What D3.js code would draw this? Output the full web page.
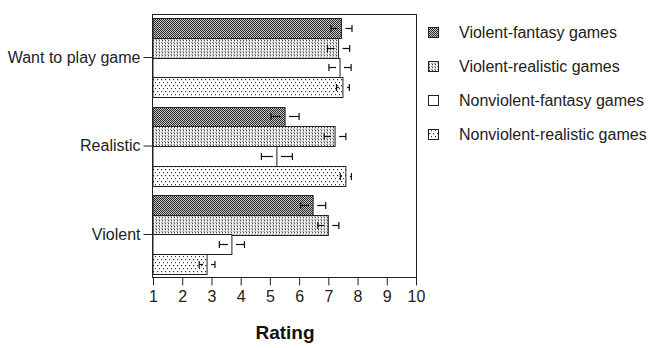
<!DOCTYPE html>
<html><head><meta charset="utf-8">
<script src="https://cdn.jsdelivr.net/npm/d3@7"></script>
<style>body{margin:0;background:#fff}svg{display:block}text{font-family:"Liberation Sans",Arial,sans-serif}</style>
</head><body><svg id="c" width="652" height="348"></svg>
<script>
const categories = ["Want to play game", "Realistic", "Violent"];
const seriesNames = ["Violent-fantasy games", "Violent-realistic games", "Nonviolent-fantasy games", "Nonviolent-realistic games"];
const violentFantasy = [7.45, 5.52, 6.48];
const violentRealistic = [7.35, 7.23, 7.0];
const nonviolentFantasy = [7.4, 5.24, 3.7];
const nonviolentRealistic = [7.5, 7.6, 2.85];
const errViolentFantasy = [0.36, 0.48, 0.43];
const errViolentRealistic = [0.38, 0.37, 0.36];
const errNonviolentFantasy = [0.38, 0.53, 0.43];
const errNonviolentRealistic = [0.22, 0.19, 0.27];
const xTicks = [1,2,3,4,5,6,7,8,9,10];
const xTitle = "Rating";

const values = [violentFantasy, violentRealistic, nonviolentFantasy, nonviolentRealistic];
const errs = [errViolentFantasy, errViolentRealistic, errNonviolentFantasy, errNonviolentRealistic];

const svg = d3.select("#c");
const defs = svg.append("defs");
// pattern 1: dark fine stipple
const p1 = defs.append("pattern").attr("id","p1").attr("patternUnits","userSpaceOnUse").attr("width",2).attr("height",2);
p1.append("rect").attr("width",2).attr("height",2).attr("fill","#c4c4c4");
p1.append("rect").attr("width",1).attr("height",1).attr("fill","#2a2a2a");
p1.append("rect").attr("x",1).attr("y",1).attr("width",1).attr("height",1).attr("fill","#2a2a2a");
// pattern 2: light stipple
const p2 = defs.append("pattern").attr("id","p2").attr("patternUnits","userSpaceOnUse").attr("width",3).attr("height",3);
p2.append("rect").attr("width",3).attr("height",3).attr("fill","#f2f2f2");
p2.append("rect").attr("width",1).attr("height",3).attr("fill","#bdbdbd");
p2.append("rect").attr("width",1).attr("height",1).attr("y",1).attr("fill","#444");
p2.append("rect").attr("width",1).attr("height",1).attr("x",2).attr("y",0).attr("fill","#999");
// pattern 4: sparse staggered dots
const p4 = defs.append("pattern").attr("id","p4").attr("patternUnits","userSpaceOnUse").attr("width",4).attr("height",6);
p4.append("rect").attr("width",4).attr("height",6).attr("fill","#fff");
p4.append("rect").attr("x",1).attr("y",1).attr("width",1.2).attr("height",1.2).attr("fill","#333");
p4.append("rect").attr("x",3).attr("y",4).attr("width",1.2).attr("height",1.2).attr("fill","#333");
const fills = ["url(#p1)","url(#p2)","#fff","url(#p4)"];

const L = 152.5, R = 415.5, T = 14.5, B = 277.5;
const x = d3.scaleLinear().domain([1,10]).range([L+0.5, R+0.5]);
const y = d3.scaleBand().domain(categories).range([T, B]).paddingInner(0.107).paddingOuter(0.04);
const ys = d3.scaleBand().domain(d3.range(4)).range([0, y.bandwidth()]);

const g = svg.append("g");
categories.forEach((c, ci) => {
  values.forEach((arr, si) => {
    const y0 = y(c) + ys(si);
    const v = arr[ci];
    g.append("rect").attr("x", x(1)).attr("y", Math.round(y0)+0.5)
      .attr("width", x(v)-x(1)).attr("height", Math.round(ys.bandwidth()))
      .attr("fill", fills[si]).attr("stroke","#222").attr("stroke-width",1);
  });
});
// error bars
categories.forEach((c, ci) => {
  values.forEach((arr, si) => {
    const yc = Math.round(y(c) + ys(si) + ys.bandwidth()/2) + 0.5;
    const v = arr[ci], e = errs[si][ci];
    const lo = x(v-e), hi = x(v+e), gap = 4;
    const eg = g.append("g").attr("stroke","#111").attr("stroke-width",1.2);
    eg.append("line").attr("x1",lo).attr("x2",x(v)-gap).attr("y1",yc).attr("y2",yc);
    eg.append("line").attr("x1",x(v)+gap).attr("x2",hi).attr("y1",yc).attr("y2",yc);
    eg.append("line").attr("x1",lo).attr("x2",lo).attr("y1",yc-3.5).attr("y2",yc+3.5);
    eg.append("line").attr("x1",hi).attr("x2",hi).attr("y1",yc-3.5).attr("y2",yc+3.5);
  });
});
// frame
svg.append("rect").attr("x",L).attr("y",T).attr("width",R-L+1).attr("height",B-T)
  .attr("fill","none").attr("stroke","#222").attr("stroke-width",1);

// x axis
const xa = svg.append("g").attr("transform",`translate(0,${B})`)
  .call(d3.axisBottom(x).tickValues(xTicks).tickSize(8).tickFormat(d3.format("d")));
xa.select(".domain").remove();
xa.selectAll("line").attr("stroke","#222");
xa.selectAll("text").attr("font-size",16).attr("fill","#222").attr("dy","0.85em");

// y axis
const ya = svg.append("g").attr("transform",`translate(${L},0)`)
  .call(d3.axisLeft(y).tickSize(9).tickPadding(3));
ya.select(".domain").remove();
ya.selectAll("line").attr("stroke","#222");
ya.selectAll("text").attr("font-size",16).attr("fill","#222");

svg.append("text").attr("x",(L+R)/2+1).attr("y",339).attr("text-anchor","middle")
  .attr("font-size",19).attr("font-weight","bold").attr("fill","#111").text(xTitle);

// legend
const lg = svg.append("g");
seriesNames.forEach((s, i) => {
  const yy = 27 + i*34;
  lg.append("rect").attr("x",428.5).attr("y",yy+0.5).attr("width",10).attr("height",10)
    .attr("fill",fills[i]).attr("stroke","#222");
  lg.append("text").attr("x",459).attr("y",yy+5.5).attr("dy","0.35em").attr("font-size",16)
    .attr("fill","#222").text(s);
});
</script></body></html>
